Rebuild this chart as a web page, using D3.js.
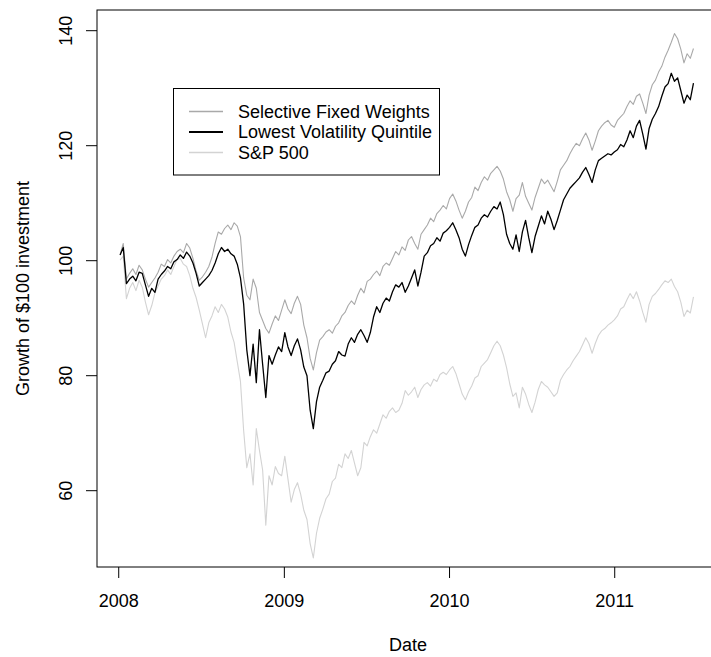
<!DOCTYPE html>
<html>
<head>
<meta charset="utf-8">
<script src="https://cdn.jsdelivr.net/npm/d3@7"></script>
<style>
  body { margin: 0; background: #fff; }
  svg { display: block; font-family: "Liberation Sans", Arial, Helvetica, sans-serif; }
</style>
</head>
<body>
<svg id="chart" width="711" height="657"></svg>
<script>
// weekly closes, first week ending 2008-01-04
const startDate = new Date(2008, 0, 4);

const selectiveFixed = [
  101.0, 103.0, 96.8, 97.8, 98.6, 97.6, 99.2, 98.4, 96.8, 95.4,
  96.2, 97.0, 98.0, 99.4, 99.0, 100.2, 99.6, 100.8, 101.6, 102.0,
  101.4, 103.0, 102.2, 100.4, 98.2, 96.6, 97.2, 98.0, 99.0, 100.6,
  103.0, 105.0, 104.6, 105.6, 106.2, 105.4, 106.6, 106.0, 104.2, 97.0,
  94.0, 93.2, 96.8, 95.2, 91.0, 89.6, 88.2, 87.4, 89.0, 90.4,
  89.6, 91.4, 93.2, 91.6, 90.8, 92.6, 93.8, 92.4, 88.8, 86.6,
  83.0, 81.0, 84.0, 86.2, 86.8, 87.6, 88.0, 87.4, 88.6, 89.2,
  90.4, 91.0, 92.2, 93.0, 92.4, 94.0, 95.2, 94.4, 96.4, 96.8,
  97.6, 98.2, 97.4, 99.0, 99.6, 99.2, 100.4, 101.6, 101.0, 102.4,
  101.8, 103.6, 104.2, 103.0, 102.0, 104.6, 105.4, 106.2, 107.4, 106.8,
  108.2, 108.8, 109.6, 109.0, 110.8, 111.6, 110.4, 108.8, 107.4, 108.6,
  110.2, 111.0, 112.8, 112.2, 113.6, 114.6, 114.0, 115.2, 115.8, 116.4,
  115.6, 114.2, 112.0, 110.6, 108.6, 110.8, 111.4, 113.6, 111.2, 110.0,
  108.8, 111.0, 112.6, 114.2, 113.4, 114.0, 113.0, 112.0, 113.8, 115.8,
  116.6, 117.4, 118.6, 119.6, 120.4, 120.0, 121.2, 122.2, 121.0, 119.2,
  120.8, 122.6, 123.4, 124.0, 124.4, 123.6, 123.2, 124.4, 125.0, 125.6,
  126.8, 127.8, 127.2, 128.6, 129.0, 127.4, 125.6, 128.8, 130.6, 131.4,
  132.8, 133.8, 135.4, 136.6, 138.0, 139.5, 138.6, 136.8, 134.4, 136.0,
  135.2, 136.9,
];

const lowestVol = [
  101.0, 102.3, 96.0, 96.8, 97.3, 96.5, 98.0, 97.8, 95.8, 93.8,
  95.2, 94.5, 96.8, 97.6, 98.2, 99.0, 98.6, 99.8, 100.2, 101.0,
  100.4, 101.5, 100.8, 99.6, 97.8, 95.6, 96.2, 96.8, 97.4, 98.3,
  99.6, 101.2, 102.3, 101.6, 102.0, 101.2, 100.8, 99.4, 97.0, 92.5,
  84.5, 80.0, 85.5, 78.8, 88.0, 82.0, 76.2, 83.5, 82.0, 83.6,
  85.0, 84.2, 87.5, 85.0, 83.5, 85.2, 86.4, 84.5, 81.5, 80.0,
  74.0, 70.8, 75.5, 78.0, 79.2, 80.5, 80.8, 82.0, 82.6, 84.2,
  83.6, 83.4, 85.5, 86.6, 85.8, 87.2, 88.0, 87.0, 85.8, 87.5,
  90.2, 92.0, 91.0, 92.6, 93.5, 93.0, 94.6, 95.8, 95.4, 96.2,
  94.5, 95.6, 97.0, 98.4, 95.6, 98.0, 100.8, 101.4, 102.6, 103.0,
  104.0, 103.4, 104.8, 105.2, 105.8, 106.6, 105.4, 104.0, 102.0, 100.8,
  102.8, 104.4, 105.8, 106.2, 107.4, 108.0, 107.6, 108.6, 109.4, 109.0,
  110.2, 108.0, 104.6, 103.0, 102.0, 104.5, 101.6, 105.0, 107.0, 104.0,
  101.4, 104.2, 106.0, 107.8, 106.4, 108.6, 107.2, 105.4, 107.0, 108.8,
  110.6, 111.6, 112.6, 113.2, 113.8, 114.4, 115.4, 116.2, 115.0, 113.6,
  115.8, 117.4, 117.8, 118.2, 118.6, 118.4, 118.9, 119.3, 120.2, 119.8,
  121.0, 122.6, 121.4, 123.4, 124.4, 122.0, 119.4, 123.0, 124.6, 125.6,
  126.8, 128.6, 130.2, 130.8, 132.6, 131.2, 131.8, 129.6, 127.4, 128.8,
  128.0, 130.9,
];

const sp500 = [
  100.1, 100.8, 93.4, 95.2, 96.2, 94.8, 96.6, 95.4, 92.8, 90.6,
  92.2, 94.4, 95.6, 96.8, 97.4, 98.4, 97.6, 99.0, 100.2, 100.4,
  99.4, 99.0, 97.4, 95.2, 93.6, 91.4, 89.0, 86.6, 89.2, 90.4,
  92.0, 91.0, 92.4, 91.6, 90.2, 87.6, 85.8, 82.4, 79.0, 70.5,
  64.0, 66.4, 61.0, 70.8, 67.0, 63.6, 54.0, 62.6, 61.0, 64.2,
  63.0, 62.6, 66.0, 62.0, 58.0, 60.2, 61.4, 59.4, 56.6, 55.0,
  50.8, 48.3, 52.6, 55.2, 56.8, 58.6, 59.4, 61.6, 62.2, 64.6,
  64.0, 66.4, 65.6, 67.0, 64.8, 62.6, 64.0, 68.4, 67.8, 69.4,
  70.6, 70.0, 71.6, 73.2, 72.6, 73.8, 74.4, 73.6, 74.0, 75.2,
  77.4, 76.6, 77.2, 78.0, 76.2, 77.6, 78.4, 78.8, 78.2, 79.4,
  79.0, 80.2, 80.6, 80.2, 81.0, 81.6, 80.4, 78.6, 76.8, 75.8,
  77.2, 78.2, 79.6, 80.0, 81.6, 82.2, 82.8, 84.0, 85.2, 86.0,
  85.2, 83.6, 81.4, 78.6, 76.4, 77.0, 74.4, 78.0, 76.8, 75.0,
  73.6, 75.4, 77.6, 79.0, 78.4, 78.0, 77.2, 76.4, 77.0, 79.2,
  80.2, 81.0, 81.6, 82.6, 83.4, 84.2, 85.4, 86.6, 85.6, 83.9,
  85.6, 87.0, 87.8, 88.2, 88.8, 89.2, 89.7, 90.4, 91.6, 92.0,
  93.2, 94.3, 93.4, 94.6, 93.0, 91.0, 89.3, 92.4, 93.8, 94.3,
  95.0, 95.8, 96.5, 96.2, 96.8, 95.5, 94.6, 92.8, 90.3, 91.4,
  90.9, 93.7,
];

const seriesNames = ['Selective Fixed Weights', 'Lowest Volatility Quintile', 'S&P 500'];
const seriesColors = ['#a9a9a9', '#000000', '#d3d3d3'];
const yTicks = [60, 80, 100, 120, 140];
const xTickYears = [2008, 2009, 2010, 2011];

const dates = d3.range(lowestVol.length).map((i) => d3.timeDay.offset(startDate, 7 * i));

const svg = d3.select('#chart');
const fontSize = 18;

// plot region (right edge runs past the image, like the original)
const x = d3.scaleTime()
  .domain([new Date(2007, 10, 14), new Date(2011, 7, 15)])
  .range([97, 717]);
const y = d3.scaleLinear()
  .domain([46.73, 143.6])
  .range([567, 10]);

const line = d3.line()
  .x((d, i) => x(dates[i]))
  .y((d) => y(d));

// S&P first, lowest vol last so it sits on top
const drawOrder = [
  { vals: sp500, k: 2 },
  { vals: selectiveFixed, k: 0 },
  { vals: lowestVol, k: 1 },
];
drawOrder.forEach(({ vals, k }) => {
  svg.append('path')
    .datum(vals)
    .attr('fill', 'none')
    .attr('stroke', seriesColors[k])
    .attr('stroke-width', k === 1 ? 1.3 : 1.1)
    .attr('stroke-linejoin', 'round')
    .attr('d', line);
});

// box
svg.append('rect')
  .attr('x', 97)
  .attr('y', 10)
  .attr('width', 620)
  .attr('height', 557)
  .attr('fill', 'none')
  .attr('stroke', '#000')
  .attr('stroke-width', 1);

// y axis (R style: labels parallel to axis)
const yAxis = svg.append('g').attr('class', 'y-axis');
yAxis.selectAll('line')
  .data(yTicks)
  .enter()
  .append('line')
  .attr('x1', 86)
  .attr('x2', 97)
  .attr('y1', (d) => y(d))
  .attr('y2', (d) => y(d))
  .attr('stroke', '#000');
yAxis.selectAll('text')
  .data(yTicks)
  .enter()
  .append('text')
  .attr('transform', (d) => `translate(71.5,${y(d)}) rotate(-90)`)
  .attr('text-anchor', 'middle')
  .attr('font-size', fontSize)
  .attr('fill', '#000')
  .text((d) => d);

// x axis
const xAxis = svg.append('g').attr('class', 'x-axis');
xAxis.selectAll('line')
  .data(xTickYears)
  .enter()
  .append('line')
  .attr('x1', (d) => x(new Date(d, 0, 1)))
  .attr('x2', (d) => x(new Date(d, 0, 1)))
  .attr('y1', 567)
  .attr('y2', 578)
  .attr('stroke', '#000');
xAxis.selectAll('text')
  .data(xTickYears)
  .enter()
  .append('text')
  .attr('x', (d) => x(new Date(d, 0, 1)))
  .attr('y', 607)
  .attr('text-anchor', 'middle')
  .attr('font-size', fontSize)
  .attr('fill', '#000')
  .text((d) => d);

// titles
svg.append('text')
  .attr('x', 408)
  .attr('y', 651)
  .attr('text-anchor', 'middle')
  .attr('font-size', fontSize)
  .text('Date');
svg.append('text')
  .attr('transform', 'translate(29,288.5) rotate(-90)')
  .attr('text-anchor', 'middle')
  .attr('font-size', fontSize)
  .text('Growth of $100 investment');

// legend
const legend = svg.append('g').attr('class', 'legend');
legend.append('rect')
  .attr('x', 173.5)
  .attr('y', 88.5)
  .attr('width', 266)
  .attr('height', 86.5)
  .attr('fill', '#fff')
  .attr('stroke', '#000');
const rows = legend.selectAll('g.row')
  .data(seriesNames)
  .enter()
  .append('g')
  .attr('class', 'row')
  .attr('transform', (d, i) => `translate(0,${111.5 + i * 20.5})`);
rows.append('line')
  .attr('x1', 189)
  .attr('x2', 223)
  .attr('stroke', (d, i) => seriesColors[i])
  .attr('stroke-width', (d, i) => (i === 1 ? 2 : 1.6));
rows.append('text')
  .attr('x', 238)
  .attr('y', 6.4)
  .attr('font-size', fontSize)
  .attr('fill', '#000')
  .text((d) => d);
</script>
</body>
</html>
